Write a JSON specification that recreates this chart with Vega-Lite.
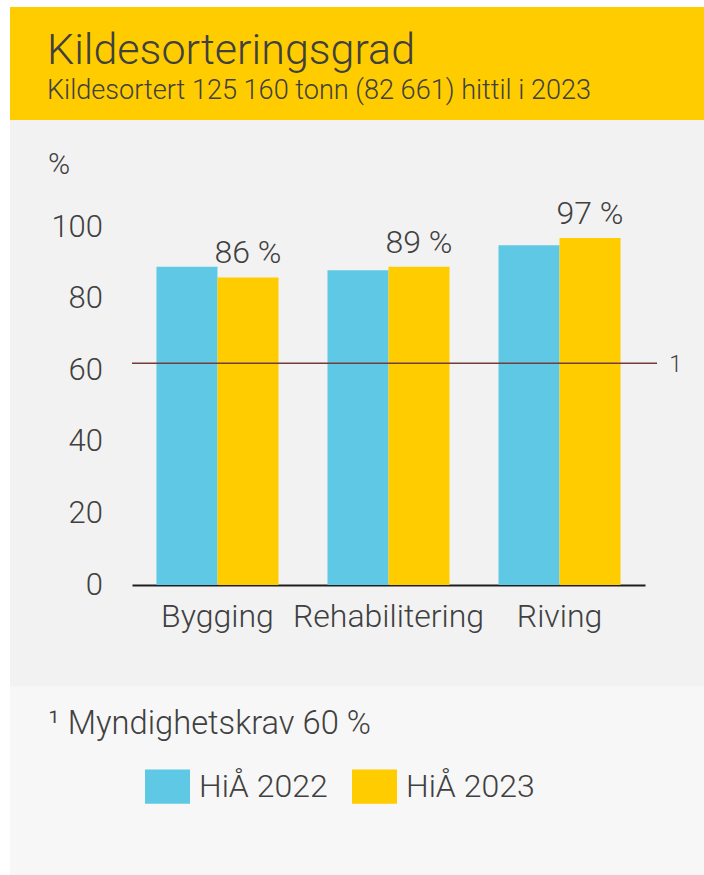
{
  "$schema": "https://vega.github.io/schema/vega-lite/v6.json",
  "padding": {"left": 10, "top": 7, "right": 0, "bottom": 0},
  "autosize": {"type": "pad"},
  "background": "#ffffff",
  "spacing": 0,
  "config": {
    "font": "Roboto",
    "view": {"stroke": null},
    "concat": {"spacing": 0}
  },
  "datasets": {
    "bars": [
      {"kategori": "Bygging", "serie": "HiÅ 2022", "andel": 89},
      {"kategori": "Bygging", "serie": "HiÅ 2023", "andel": 86, "etikett": "86 %"},
      {"kategori": "Rehabilitering", "serie": "HiÅ 2022", "andel": 88},
      {"kategori": "Rehabilitering", "serie": "HiÅ 2023", "andel": 89, "etikett": "89 %"},
      {"kategori": "Riving", "serie": "HiÅ 2022", "andel": 95},
      {"kategori": "Riving", "serie": "HiÅ 2023", "andel": 97, "etikett": "97 %"}
    ],
    "krav": [{"krav": 62, "note": "1"}]
  },
  "vconcat": [
    {
      "width": 694,
      "height": 113,
      "view": {"fill": "#ffcc00", "stroke": null},
      "title": {
        "text": "Kildesorteringsgrad",
        "subtitle": "Kildesortert 125 160 tonn (82 661) hittil i 2023",
        "anchor": "start",
        "frame": "group",
        "orient": "top",
        "offset": -97,
        "dx": 37,
        "fontSize": 43,
        "fontWeight": 300,
        "color": "#404040",
        "subtitleFontSize": 27.1,
        "subtitleFontWeight": 300,
        "subtitleColor": "#404040",
        "subtitlePadding": 5
      },
      "data": {"values": [{}]},
      "mark": {"type": "text"},
      "encoding": {}
    },
    {
      "width": 694,
      "height": 566,
      "view": {"fill": "#f2f2f2", "stroke": null},
      "layer": [
        {
          "data": {"name": "bars"},
          "mark": {"type": "bar"},
          "encoding": {
            "x": {
              "field": "kategori",
              "type": "nominal",
              "sort": ["Bygging", "Rehabilitering", "Riving"],
              "scale": {"range": [122, 635], "paddingInner": 0.2865, "paddingOuter": 0.143},
              "axis": {
                "orient": "bottom",
                "offset": -101,
                "title": null,
                "labelAngle": 0,
                "ticks": false,
                "tickSize": 0,
                "grid": false,
                "domainColor": "#1e1e1e",
                "domainWidth": 2,
                "labelPadding": 16,
                "labelFontSize": 32,
                "labelFontWeight": 300,
                "labelLimit": 0,
                "labelColor": "#404040",
                "labelBaseline": "top"
              }
            },
            "xOffset": {"field": "serie", "type": "nominal", "scale": {"paddingInner": 0, "paddingOuter": 0}},
            "y": {
              "field": "andel",
              "type": "quantitative",
              "scale": {"domain": [0, 100], "range": [465, 107.3], "nice": false},
              "axis": {
                "orient": "left",
                "offset": -92.5,
                "values": [0, 20, 40, 60, 80, 100],
                "domain": false,
                "ticks": false,
                "tickSize": 0,
                "grid": false,
                "labelPadding": 0,
                "labelFlush": false,
                "labelOverlap": false,
                "labelFontSize": 31,
                "labelFontWeight": 300,
                "labelColor": "#404040",
                "title": "%",
                "titleAngle": 0,
                "titleX": -44,
                "titleY": 53,
                "titleAlign": "center",
                "titleBaseline": "alphabetic",
                "titleFontSize": 30,
                "titleFontWeight": 300,
                "titleColor": "#404040"
              }
            },
            "color": {
              "field": "serie",
              "type": "nominal",
              "scale": {"domain": ["HiÅ 2022", "HiÅ 2023"], "range": ["#5ec8e5", "#ffcc00"]},
              "legend": {
                "orient": "none",
                "legendX": 135,
                "legendY": 757,
                "direction": "horizontal",
                "title": null,
                "padding": 0,
                "symbolType": "M-1,-0.76L1,-0.76L1,0.76L-1,0.76Z",
                "symbolSize": 2025,
                "symbolStrokeWidth": 0,
                "symbolOpacity": 1,
                "labelFontSize": 32,
                "labelFontWeight": 300,
                "labelColor": "#404040",
                "labelOffset": 9,
                "labelLimit": 0,
                "columnPadding": 24
              }
            }
          }
        },
        {
          "data": {"name": "bars"},
          "transform": [{"filter": "isValid(datum.etikett)"}],
          "mark": {"type": "text", "baseline": "alphabetic", "dy": -14, "fontSize": 32, "fontWeight": 300, "color": "#404040"},
          "encoding": {
            "x": {"field": "kategori", "type": "nominal", "sort": ["Bygging", "Rehabilitering", "Riving"]},
            "xOffset": {"field": "serie", "type": "nominal"},
            "y": {"field": "andel", "type": "quantitative"},
            "text": {"field": "etikett"}
          }
        },
        {
          "data": {"name": "krav"},
          "mark": {"type": "rule", "color": "#733c3c", "strokeWidth": 1.5, "xOffset": -24.5, "x2Offset": 36.5},
          "encoding": {
            "x": {"datum": "Bygging", "bandPosition": 0},
            "x2": {"datum": "Riving", "bandPosition": 1},
            "y": {"field": "krav", "type": "quantitative"}
          }
        },
        {
          "data": {"name": "krav"},
          "mark": {"type": "text", "align": "center", "baseline": "middle", "dx": 55, "dy": 1.5, "fontSize": 23, "fontWeight": 300, "color": "#404040"},
          "encoding": {
            "x": {"datum": "Riving", "bandPosition": 1},
            "y": {"field": "krav", "type": "quantitative"},
            "text": {"field": "note"}
          }
        }
      ]
    },
    {
      "width": 694,
      "height": 189,
      "view": {"fill": "#f7f7f7", "stroke": null},
      "title": {
        "text": "¹ Myndighetskrav 60 %",
        "anchor": "start",
        "frame": "group",
        "orient": "top",
        "offset": -55,
        "dx": 38,
        "fontSize": 32.7,
        "fontWeight": 300,
        "color": "#404040"
      },
      "data": {"values": [{}]},
      "mark": {"type": "text"},
      "encoding": {}
    }
  ]
}
